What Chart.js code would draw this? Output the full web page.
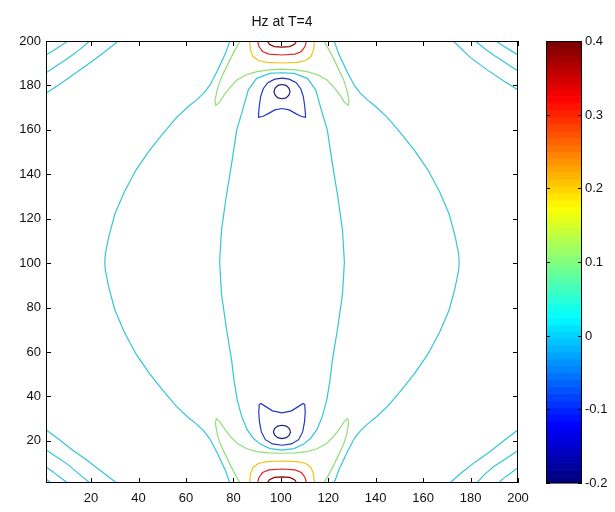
<!DOCTYPE html>
<html>
<head>
<meta charset="utf-8">
<script src="https://cdn.jsdelivr.net/npm/chart.js@4.4.1/dist/chart.umd.min.js"></script>
<style>
  html, body { margin: 0; padding: 0; background: #fff; }
  #wrap { width: 615px; height: 512px; }
</style>
</head>
<body>
<div id="wrap"><canvas id="c" width="615" height="512"></canvas></div>
<script>
'use strict';

// tick values
const xTickValues = [20, 40, 60, 80, 100, 120, 140, 160, 180, 200];
const yTickValues = [20, 40, 60, 80, 100, 120, 140, 160, 180, 200];
const cbTickValues = [-0.2, -0.1, 0, 0.1, 0.2, 0.3, 0.4];
const cbRange = [-0.2, 0.4];
const titleText = 'Hz at T=4';

// contour lines, [x, y] in data units
const cyanLensLeft = [[78.5,200],[76.5,194],[73,186],[70,180],[67.5,176.5],[64.5,173.5],[61,170.5],[56,165.5],[50,158],[44.5,150.5],[39,142],[34,132],[30,122],[27.5,112],[26,104],[25.8,100.5],[26,97],[27.5,89],[30,79],[34,69],[39,59],[44.5,50.5],[50,43],[56,35.5],[61,30.5],[64.5,27.5],[67.5,24.5],[70,21],[73,15],[76.5,7],[78.5,1]];
const cyanLensRight = [[122.5,200],[124.5,194],[128,186],[131,180],[133.5,176.5],[136.5,173.5],[140,170.5],[145,165.5],[151,158],[156.5,150.5],[162,142],[167,132],[171,122],[173.5,112],[175,104],[175.2,100.5],[175,97],[173.5,89],[171,79],[167,69],[162,59],[156.5,50.5],[151,43],[145,35.5],[140,30.5],[136.5,27.5],[133.5,24.5],[131,21],[128,15],[124.5,7],[122.5,1]];
const cyanInner = [[100.5,185.7],[95.4,185.4],[89.8,183.2],[86.3,178],[83.5,167.4],[81.4,160],[79.3,145],[77,130],[75,115],[74.2,100.5],[75,86],[77,71],[79.3,56],[80.3,47],[81.6,38.5],[83.5,31],[85.8,25],[88.5,21],[91.5,18.4],[95.5,16.5],[100.5,15.8],[105.5,16.5],[109.5,18.4],[112.5,21],[115.2,25],[117.5,31],[119.4,38.5],[120.7,47],[121.7,56],[124,71],[126,86],[126.8,100.5],[126,115],[124,130],[121.7,145],[119.6,160],[117.5,167.4],[114.7,178],[111.2,183.2],[105.6,185.4],[100.5,185.7]];

const cyanTL = [
  [[1,193.7],[4,195.6],[7,197.8],[10.3,200]],
  [[1,185.7],[5,188.5],[10,192],[15,196],[19.5,200]],
  [[1,176.5],[6,180],[12,184.5],[18,189],[25,194.5],[31.5,200]]
];
const cyanTR = [
  [[200,193.7],[196.5,196],[193.5,198],[190.7,200]],
  [[200,186.5],[195,190],[190,193.5],[186,196.5],[182,200]],
  [[200,177.9],[194,182],[187,187],[180,192.5],[172.7,200]]
];
const cyanBL = [
  [[1,25],[6,21],[12,16],[18,11.5],[24,6.5],[30.8,1]],
  [[1,16],[5,13],[10,9.5],[15,5],[19.5,1]],
  [[1,8.3],[4,6],[7,3.5],[10.2,1]],
  [[1,2.8],[2,2],[3,1]]
];
const cyanBR = [
  [[200,25],[194,20],[188,15],[182,10.5],[176,5.5],[171.3,1]],
  [[200,15.6],[195,12],[190,8.5],[186,5],[182.6,1]],
  [[200,8],[197,5.5],[194,3.2],[191.7,1]]
];

const greenTop = [[82.8,200],[80.7,196],[78.5,191.5],[76.5,187],[74.5,182.5],[73.2,178],[72.2,173],[72.6,171],[74.2,172.5],[76,175.5],[78.5,179],[81.5,182.4],[85.5,184.8],[90,186.2],[95,187],[100.5,187.3],[106,187],[111,186.2],[115.5,184.8],[119.5,182.4],[122.5,179],[125,175.5],[126.8,172.5],[128.4,171],[128.8,173],[127.8,178],[126.5,182.5],[124.5,187],[122.5,191.5],[120.3,196],[118.2,200]];
const greenBottom = [[82.8,1],[80.7,5],[78.5,9.5],[76.5,14],[74.5,18.5],[73.2,23],[72.4,28],[72.8,30],[74.4,28.5],[76.2,25.5],[78.7,22],[81.7,18.8],[85.7,16.4],[90,15.1],[95,14.6],[100.5,14.4],[106,14.6],[111,15.1],[115.3,16.4],[119.3,18.8],[122.3,22],[124.8,25.5],[126.6,28.5],[128.2,30],[128.6,28],[127.8,23],[126.5,18.5],[124.5,14],[122.5,9.5],[120.3,5],[118.2,1]];

const orangeTop = [[86.8,200],[87.2,196],[88.3,193],[90.5,191.2],[94,190.4],[100.5,190.1],[107,190.4],[110.5,191.2],[112.7,193],[113.8,196],[114.2,200]];
const orangeBottom = [[86.8,1],[87.2,5],[88.3,8],[90.5,9.8],[94,10.6],[100.5,10.9],[107,10.6],[110.5,9.8],[112.7,8],[113.8,5],[114.2,1]];
const redTop = [[90.2,200],[90.8,197.5],[92.3,195.3],[95,194.1],[100.5,193.7],[106,194.1],[108.7,195.3],[110.2,197.5],[110.8,200]];
const redBottom = [[90.2,1],[90.8,3.5],[92.3,5.7],[95,6.9],[100.5,7.3],[106,6.9],[108.7,5.7],[110.2,3.5],[110.8,1]];
const maroonTop = [[94.3,200],[95.2,198.5],[97.3,197.5],[100.5,197.2],[103.7,197.5],[105.8,198.5],[106.7,200]];
const maroonBottom = [[94.3,1],[95.2,2.5],[97.3,3.5],[100.5,3.8],[103.7,3.5],[105.8,2.5],[106.7,1]];

const blueTop = [[100.5,183.3],[97.5,182.8],[94.5,181.2],[92.6,178.5],[91.5,175],[90.9,170.5],[90.6,166.8],[90.6,165.7],[92.3,166],[94.5,167.2],[97.5,169],[100.5,169.6],[103.5,169],[106.5,167.2],[108.7,166],[110.4,165.7],[110.4,166.8],[110.1,170.5],[109.5,175],[108.4,178.5],[106.5,181.2],[103.5,182.8],[100.5,183.3]];
const blueBottom = [[100.5,18],[96.5,18.6],[93.5,20.5],[91.8,24],[91,28.5],[90.7,33],[90.9,36.3],[91.6,36.8],[93.5,35.5],[96.5,33.5],[100.5,32.6],[104.5,33.5],[107.5,35.5],[109.4,36.8],[110.1,36.3],[110.3,33],[110,28.5],[109.2,24],[107.5,20.5],[104.5,18.6],[100.5,18]];
const navyTop = [[103.9,177.2],[103.4,178.8],[102.2,180],[100.5,180.4],[98.8,180],[97.6,178.8],[97.1,177.2],[97.6,175.6],[98.8,174.4],[100.5,174],[102.2,174.4],[103.4,175.6],[103.9,177.2]];
const navyBottom = [[104.1,24],[103.6,25.5],[102.3,26.6],[100.5,27],[98.7,26.6],[97.4,25.5],[96.9,24],[97.4,22.5],[98.7,21.4],[100.5,21],[102.3,21.4],[103.6,22.5],[104.1,24]];

const colors = {
  maroon: '#8c0000',
  red: '#e02424',
  orange: '#f2c21a',
  green: '#92de78',
  cyan: '#33c6d6',
  blue: '#2436c4',
  navy: '#1a1a7e'
};

const lines = [
  ...[cyanLensLeft, cyanLensRight, cyanInner, ...cyanTL, ...cyanTR, ...cyanBL, ...cyanBR].map(d => [d, colors.cyan]),
  [greenTop, colors.green], [greenBottom, colors.green],
  [orangeTop, colors.orange], [orangeBottom, colors.orange],
  [redTop, colors.red], [redBottom, colors.red],
  [maroonTop, colors.maroon], [maroonBottom, colors.maroon],
  [blueTop, colors.blue], [blueBottom, colors.blue],
  [navyTop, colors.navy], [navyBottom, colors.navy]
];

const datasets = lines.map(([pts, col]) => ({
  data: pts.map(p => ({ x: p[0], y: p[1] })),
  borderColor: col,
  borderWidth: 1.2,
  pointRadius: 0,
  showLine: true,
  fill: false,
  tension: 0
}));

const FONT = '"Liberation Sans", Arial, sans-serif';

function jet(t) {
  const c = v => Math.round(255 * Math.max(0, Math.min(1, v)));
  return `rgb(${c(1.5 - Math.abs(4 * t - 3))},${c(1.5 - Math.abs(4 * t - 2))},${c(1.5 - Math.abs(4 * t - 1))})`;
}

const framePlugin = {
  id: 'frame',
  afterDraw(chart) {
    const { ctx, chartArea: a, scales: { x, y } } = chart;
    ctx.save();
    ctx.strokeStyle = '#000';
    ctx.lineWidth = 1;
    ctx.strokeRect(a.left + 0.5, a.top + 0.5, a.right - a.left - 1, a.bottom - a.top - 1);
    ctx.beginPath();
    for (const v of xTickValues) {
      const px = Math.round(x.getPixelForValue(v)) + 0.5;
      ctx.moveTo(px, a.bottom); ctx.lineTo(px, a.bottom - 5);
      ctx.moveTo(px, a.top); ctx.lineTo(px, a.top + 5);
    }
    for (const v of yTickValues) {
      const py = Math.round(y.getPixelForValue(v)) + 0.5;
      ctx.moveTo(a.left, py); ctx.lineTo(a.left + 5, py);
      ctx.moveTo(a.right, py); ctx.lineTo(a.right - 5, py);
    }
    ctx.stroke();

    // title
    ctx.fillStyle = '#111';
    ctx.font = '14px ' + FONT;
    ctx.textAlign = 'center';
    ctx.textBaseline = 'middle';
    ctx.fillText(titleText, (a.left + a.right) / 2, 22);

    // colorbar
    ctx.font = '13px ' + FONT;
    const cx0 = 546, cx1 = 582, cy0 = a.top, cy1 = a.bottom;
    const n = 64, h = (cy1 - cy0) / n;
    for (let i = 0; i < n; i++) {
      ctx.fillStyle = jet(i / (n - 1));
      ctx.fillRect(cx0, cy1 - (i + 1) * h, cx1 - cx0, h + 0.6);
    }
    ctx.strokeStyle = '#000';
    ctx.strokeRect(cx0 + 0.5, cy0 + 0.5, cx1 - cx0 - 1, cy1 - cy0 - 1);
    ctx.beginPath();
    ctx.fillStyle = '#111';
    ctx.textAlign = 'left';
    for (const v of cbTickValues) {
      const py = Math.round(cy1 - (v - cbRange[0]) / (cbRange[1] - cbRange[0]) * (cy1 - cy0)) + 0.5;
      ctx.moveTo(cx0, py); ctx.lineTo(cx0 + 4, py);
      ctx.moveTo(cx1, py); ctx.lineTo(cx1 - 4, py);
      ctx.fillText(String(Math.round(v * 10) / 10), cx1 + 3, py);
    }
    ctx.stroke();
    ctx.restore();
  }
};

new Chart(document.getElementById('c'), {
  type: 'scatter',
  data: { datasets },
  options: {
    responsive: false,
    animation: false,
    events: [],
    layout: { padding: { left: 0, top: 41, right: 97, bottom: 0 } },
    plugins: { legend: { display: false }, tooltip: { enabled: false }, title: { display: false } },
    scales: {
      x: {
        type: 'linear', min: 1, max: 200,
        grid: { display: false, drawTicks: false },
        border: { display: false },
        ticks: { color: '#111', font: { family: FONT, size: 13 }, padding: 8, maxRotation: 0 },
        afterBuildTicks: s => { s.ticks = xTickValues.map(v => ({ value: v })); },
        afterFit: s => { s.height = 29; }
      },
      y: {
        type: 'linear', min: 1, max: 200,
        grid: { display: false, drawTicks: false },
        border: { display: false },
        ticks: { color: '#111', font: { family: FONT, size: 13 }, padding: 5 },
        afterBuildTicks: s => { s.ticks = yTickValues.map(v => ({ value: v })); },
        afterFit: s => { s.width = 46; }
      }
    }
  },
  plugins: [framePlugin]
});
</script>
</body>
</html>
